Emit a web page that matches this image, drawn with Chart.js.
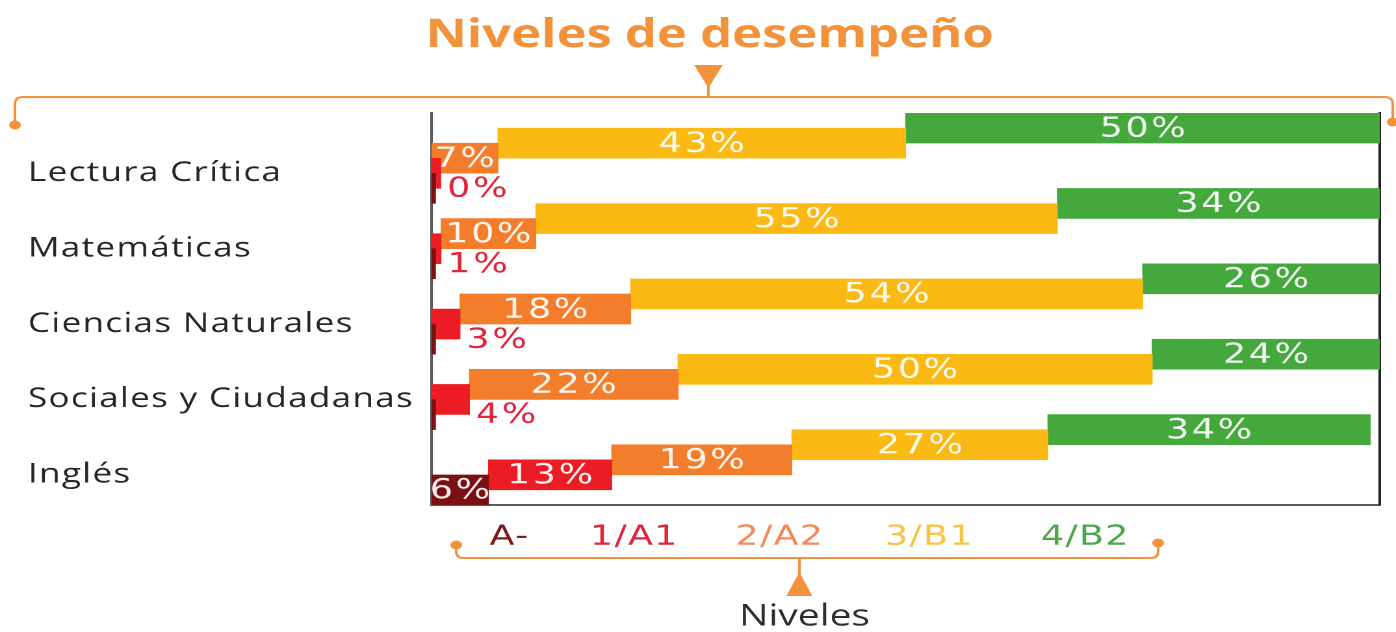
<!DOCTYPE html>
<html lang="es">
<head>
<meta charset="utf-8">
<title>Niveles de desempeño</title>
<script src="https://cdn.jsdelivr.net/npm/chart.js@4.4.1/dist/chart.umd.min.js"></script>
<style>
  html, body { margin: 0; padding: 0; background: #fff; overflow: hidden; }
  /* the source picture is stretched sideways, so the chart is drawn narrower and scaled */
  #wrap { width: 1074px; height: 632px; transform: scaleX(1.29981); transform-origin: 0 0; }
</style>
</head>
<body>
<div id="wrap"><canvas id="chart"></canvas></div>
<script>
// Subjects (rows) and performance levels
const subjects = ['Lectura Crítica', 'Matemáticas', 'Ciencias Naturales', 'Sociales y Ciudadanas', 'Inglés'];
const levels = ['A-', '1/A1', '2/A2', '3/B1', '4/B2'];

// Percent of students per level, one value per subject
const aMinus = [0, 0, 0, 0, 6];
const a1 = [0, 1, 3, 4, 13];
const a2 = [7, 10, 18, 22, 19];
const b1 = [43, 55, 54, 50, 27];
const b2 = [50, 34, 26, 24, 34];

const series = [aMinus, a1, a2, b1, b2];
const barColors = ['#7b1012', '#ec1c24', '#f47d2c', '#fbb914', '#45a83c'];
const levelTextColors = ['#7a1a1c', '#e0243a', '#f28a58', '#f4c443', '#4ca64a'];

// each row is a staircase: level 0 sits lowest, level 4 highest
function rowPos(row, level) {
  return row * 5 + (4 - level);
}

const datasets = series.map((vals, level) => {
  const data = vals.map((v, row) => {
    let start = 0;
    for (let k = 0; k < level; k++) start += series[k][row];
    return { x: [start, start + v], y: rowPos(row, level) };
  });
  return {
    label: levels[level],
    data: data,
    backgroundColor: barColors[level],
    borderWidth: 0,
    barThickness: 30,
    grouped: false,
    minBarLength: level === 0 ? 3 : (level === 1 ? 7 : 0),
    clip: 0
  };
});

// Percent labels on the bars
const valueLabels = {
  id: 'valueLabels',
  afterDatasetsDraw(chart) {
    const ctx = chart.ctx;
    ctx.save();
    ctx.font = '28px "DejaVu Sans"';
    ctx.letterSpacing = '2px';
    ctx.textBaseline = 'middle';
    series.forEach((vals, level) => {
      chart.getDatasetMeta(level).data.forEach((bar, row) => {
        const v = vals[row];
        if (level === 0 && v === 0) return;
        const text = v + '%';
        if (level === 1 && v < 5) {
          ctx.fillStyle = '#e0243a';
          ctx.textAlign = 'left';
          ctx.fillText(text, bar.x + 5, bar.y + bar.height / 2 + 1);
        } else {
          ctx.fillStyle = 'rgba(255,255,255,0.93)';
          ctx.textAlign = 'center';
          ctx.fillText(text, (bar.x + bar.base) / 2 + 1, bar.y + 1);
        }
      });
    });
    ctx.restore();
  }
};

// a little letter spacing for the subject names (axis labels)
const axisSpacing = {
  id: 'axisSpacing',
  beforeDraw(chart) {
    chart.ctx.letterSpacing = '1px';
  },
  beforeDatasetsDraw(chart) {
    chart.ctx.letterSpacing = '0px';
  }
};

// Title, braces, level names and "Niveles" caption
const decor = {
  id: 'decor',
  afterDraw(chart) {
    const ctx = chart.ctx;
    const orange = '#f2923a';
    ctx.save();
    ctx.letterSpacing = '0px';

    // title
    ctx.fillStyle = orange;
    ctx.font = 'bold 39px "Open Sans"';
    ctx.textAlign = 'center';
    ctx.textBaseline = 'middle';
    ctx.fillText('Niveles de desempeño', 546, 36);

    ctx.strokeStyle = orange;
    ctx.lineWidth = 2;

    // top brace
    ctx.beginPath();
    ctx.moveTo(11.5, 124);
    ctx.lineTo(11.5, 104);
    ctx.quadraticCurveTo(11.5, 97, 18, 97);
    ctx.lineTo(1065, 97);
    ctx.quadraticCurveTo(1071.5, 97, 1071.5, 104);
    ctx.lineTo(1071.5, 121);
    ctx.moveTo(545, 86);
    ctx.lineTo(545, 97);
    ctx.stroke();
    ctx.fillStyle = orange;
    ctx.beginPath();
    ctx.moveTo(534, 65);
    ctx.lineTo(556, 65);
    ctx.lineTo(545, 88);
    ctx.closePath();
    ctx.fill();
    [[11.5, 125], [1071.5, 122]].forEach(([x, y]) => {
      ctx.beginPath();
      ctx.arc(x, y, 4.5, 0, Math.PI * 2);
      ctx.fill();
    });

    // bottom brace
    ctx.beginPath();
    ctx.moveTo(351, 545);
    ctx.lineTo(351, 552);
    ctx.quadraticCurveTo(351, 558, 357, 558);
    ctx.lineTo(885, 558);
    ctx.quadraticCurveTo(891, 558, 891, 552);
    ctx.lineTo(891, 543);
    ctx.moveTo(615, 558);
    ctx.lineTo(615, 576);
    ctx.stroke();
    ctx.beginPath();
    ctx.moveTo(615, 572);
    ctx.lineTo(625, 596);
    ctx.lineTo(605, 596);
    ctx.closePath();
    ctx.fill();
    [[351, 545], [891, 543]].forEach(([x, y]) => {
      ctx.beginPath();
      ctx.arc(x, y, 4.5, 0, Math.PI * 2);
      ctx.fill();
    });

    // level names
    const levelX = [392, 488, 600, 715, 835];
    ctx.font = '28px "DejaVu Sans"';
    ctx.letterSpacing = '1px';
    levels.forEach((name, i) => {
      ctx.fillStyle = levelTextColors[i];
      ctx.fillText(name, levelX[i], 537);
    });

    ctx.letterSpacing = '0px';
    ctx.fillStyle = '#2e2e2e';
    ctx.font = '30px "Open Sans"';
    ctx.fillText('Niveles', 619, 617);
    ctx.restore();
  }
};

new Chart(document.getElementById('chart'), {
  type: 'bar',
  data: { datasets: datasets },
  plugins: [axisSpacing, valueLabels, decor],
  options: {
    indexAxis: 'y',
    responsive: true,
    maintainAspectRatio: false,
    devicePixelRatio: 2,
    animation: false,
    layout: { padding: { top: 113, left: 21.5, right: 12.5, bottom: 127 } },
    plugins: {
      legend: { display: false },
      tooltip: { enabled: false },
      title: { display: false }
    },
    scales: {
      x: {
        type: 'linear',
        min: 0,
        max: 100,
        ticks: { display: false },
        grid: { display: false, drawTicks: false },
        border: { display: true, color: '#5a5a5a', width: 2 }
      },
      y: {
        type: 'linear',
        reverse: true,
        offset: false,
        min: -1,
        max: 25,
        afterBuildTicks: (scale) => {
          scale.ticks = subjects.map((s, i) => ({ value: rowPos(i, 1) }));
        },
        afterFit: (scale) => {
          scale.width = 310.5;
        },
        ticks: {
          autoSkip: false,
          crossAlign: 'far',
          padding: 0,
          color: '#262626',
          font: { family: 'Open Sans', size: 27 },
          callback: (value) => subjects[(value - 3) / 5]
        },
        grid: { display: false, drawTicks: false },
        border: { display: true, color: '#5a5a5a', width: 2 }
      },
      y2: {
        type: 'linear',
        position: 'right',
        offset: false,
        ticks: { display: false },
        grid: { display: false, drawTicks: false },
        border: { display: true, color: '#222', width: 2 }
      }
    }
  }
});
</script>
</body>
</html>
